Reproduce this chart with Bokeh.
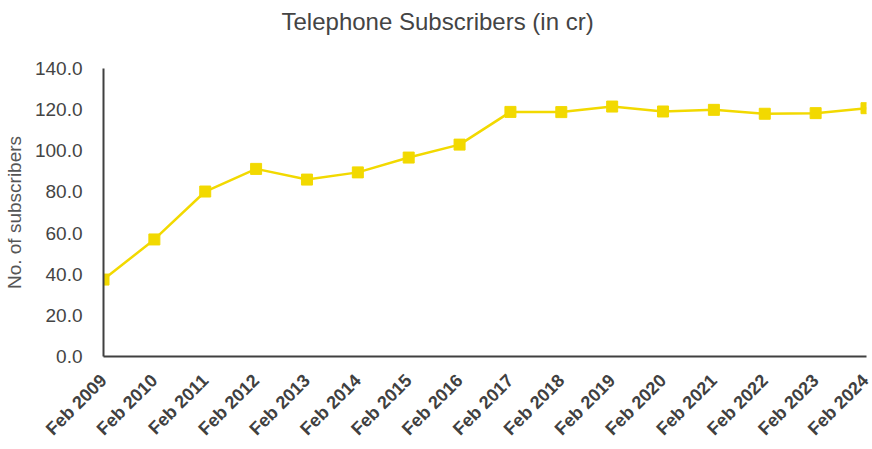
from math import pi
from bokeh.plotting import figure
from bokeh.models import Range1d, FixedTicker, Title
from bokeh.embed import file_html
from bokeh.resources import INLINE

years = ["Feb 2009", "Feb 2010", "Feb 2011", "Feb 2012", "Feb 2013", "Feb 2014",
         "Feb 2015", "Feb 2016", "Feb 2017", "Feb 2018", "Feb 2019", "Feb 2020",
         "Feb 2021", "Feb 2022", "Feb 2023", "Feb 2024"]
subscribers = [37.4, 56.9, 80.2, 91.2, 86.0, 89.5, 96.7, 103.0, 118.9, 118.8,
               121.5, 119.1, 119.9, 118.0, 118.3, 120.7]
y_ticks = [0, 20, 40, 60, 80, 100, 120, 140]

xs = list(range(len(years)))

p = figure(width=872, height=449, output_backend="svg", toolbar_location=None,
           x_range=Range1d(0, len(years) - 1), y_range=Range1d(0, 140),
           min_border_left=100, min_border_right=6, min_border_top=68,
           min_border_bottom=93, title=None)
p.outline_line_color = None
p.xgrid.grid_line_color = None
p.ygrid.grid_line_color = None
p.background_fill_color = "white"
p.border_fill_color = "white"

# spacer between title and frame (added first so it sits next to the frame)
spacer = Title(text=" ", text_font_size="1px", standoff=29, text_color="white")
p.add_layout(spacer, "above")
t = Title(text="Telephone Subscribers (in cr)", align="left", offset=178,
          text_font="Liberation Sans", text_font_size="24px",
          text_font_style="normal", text_color="#444444", standoff=4)
p.add_layout(t, "above")

line_color = "#F2D900"
p.line(xs, subscribers, line_color=line_color, line_width=2.5)
p.scatter(xs, subscribers, marker="square", size=11, fill_color=line_color,
          line_color=line_color)

# x axis
xa = p.xaxis[0]
xa.ticker = FixedTicker(ticks=xs)
xa.major_label_overrides = {i: years[i] for i in xs}
xa.major_label_orientation = pi / 4
xa.major_label_text_font = "Liberation Sans"
xa.major_label_text_font_size = "18px"
xa.major_label_text_font_style = "bold"
xa.major_label_text_color = "#404040"
xa.axis_line_color = "#404040"
xa.axis_line_width = 2
xa.major_tick_line_color = None
xa.minor_tick_line_color = None
xa.major_label_standoff = 15

# y axis
ya = p.yaxis[0]
ya.ticker = FixedTicker(ticks=y_ticks)
ya.major_label_overrides = {v: f"{v:.1f}" for v in y_ticks}
ya.major_label_text_font = "Liberation Sans"
ya.major_label_text_font_size = "19px"
ya.major_label_text_color = "#444444"
ya.axis_line_color = "#404040"
ya.axis_line_width = 2
ya.major_tick_line_color = None
ya.minor_tick_line_color = None
ya.major_label_standoff = 15
ya.axis_label = "No. of subscribers"
ya.axis_label_text_font = "Liberation Sans"
ya.axis_label_text_font_size = "19px"
ya.axis_label_text_font_style = "normal"
ya.axis_label_text_color = "#555555"
ya.axis_label_standoff = 7

open("out.html", "w").write(file_html(p, INLINE))
